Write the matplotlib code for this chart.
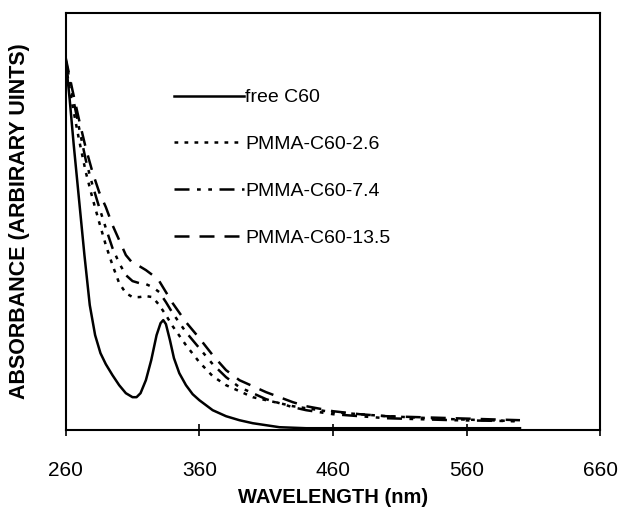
import matplotlib
matplotlib.use("Agg")
import matplotlib.pyplot as plt

plt.rcParams['font.family'] = ['Liberation Sans', 'DejaVu Sans']

# wavelength (nm) / absorbance (arbitrary units)
wl_free = [260, 263, 266, 270, 274, 278, 282, 286, 290, 295, 300, 305, 310, 313,
           316, 320, 324, 328, 331, 333, 335, 338, 341, 345, 350, 355, 360, 370,
           380, 390, 400, 420, 440, 600]
abs_free = [370, 330, 285, 230, 175, 125, 95, 77, 66, 55, 45, 37, 33, 33,
            37, 50, 70, 95, 107, 110, 106, 90, 72, 57, 45, 36, 30, 20,
            14, 10, 7, 3, 2, 2]

wl = [260, 265, 270, 275, 280, 285, 290, 295, 300, 305, 310, 315, 320, 325, 330,
      335, 340, 350, 360, 370, 380, 390, 400, 410, 420, 430, 440, 460, 480, 500,
      550, 600]
abs_26 = [365, 325, 290, 258, 232, 208, 185, 165, 147, 137, 133, 133, 134, 133, 125,
          115, 104, 85, 68, 54, 45, 39, 33, 30, 27, 24, 22, 18, 16, 14,
          11, 9]
abs_74 = [370, 335, 302, 270, 245, 223, 202, 182, 167, 155, 149, 147, 146, 143, 138,
          128, 117, 98, 82, 66, 53, 43, 37, 31, 27, 23, 20, 16, 14, 12,
          10, 9]
abs_135 = [372, 340, 310, 282, 258, 238, 223, 205, 190, 175, 167, 164, 160, 155, 149,
           138, 127, 108, 92, 75, 60, 50, 44, 38, 33, 28, 24, 19, 16, 14,
           12, 10]

labels = ['free C60', 'PMMA-C60-2.6', 'PMMA-C60-7.4', 'PMMA-C60-13.5']
xticks = [260, 360, 460, 560, 660]

fig = plt.figure(figsize=(6.2, 5.14), dpi=100)
ax = fig.add_axes([0.106, 0.163, 0.862, 0.812])

lw = 1.8
ax.plot(wl_free, abs_free, color='black', lw=lw, ls='-', label=labels[0])
ax.plot(wl, abs_26, color='black', lw=lw, ls=(0, (1.5, 2.5)), label=labels[1])
ax.plot(wl, abs_74, color='black', lw=lw, ls=(0, (6, 3, 1.5, 3, 1.5, 3)), label=labels[2])
ax.plot(wl, abs_135, color='black', lw=lw, ls=(0, (6, 4)), label=labels[3])

ax.set_xlim(260, 660)
ax.set_ylim(0, 417)
ax.set_xticks(xticks)
ax.set_xticklabels([str(t) for t in xticks], fontsize=15)
ax.set_yticks([])
ax.tick_params(axis='x', direction='inout', length=8, width=1.2, pad=18)
for s in ax.spines.values():
    s.set_linewidth(1.5)

ax.set_xlabel('WAVELENGTH (nm)', fontsize=14.5, fontweight='bold', labelpad=6)
ax.set_ylabel('ABSORBANCE (ARBIRARY UINTS)', fontsize=15.5, fontweight='bold')
ax.yaxis.set_label_coords(-0.067, 0.5)

ax.legend(loc='upper left', bbox_to_anchor=(0.17, 0.86), frameon=False,
          fontsize=14, handlelength=3.6, handletextpad=0.05, labelspacing=1.5)

fig.savefig('out.png', dpi=100)
